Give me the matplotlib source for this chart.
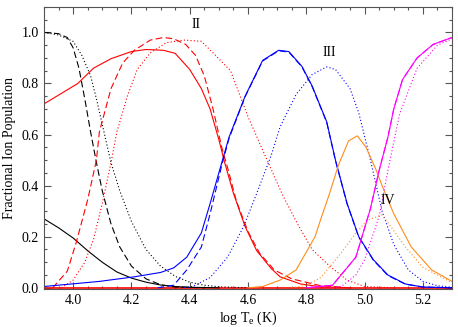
import matplotlib
matplotlib.use('Agg')
import matplotlib.pyplot as plt
from matplotlib.ticker import MultipleLocator

plt.rcParams['font.family'] = ['Liberation Serif', 'DejaVu Serif']
plt.rcParams['mathtext.fontset'] = 'custom'
plt.rcParams['mathtext.rm'] = 'Liberation Serif'
plt.rcParams['mathtext.it'] = 'Liberation Serif:italic'

# %% data (log T, fraction)
black_solid_x = [3.9, 3.95, 4.0, 4.05, 4.1, 4.15, 4.2, 4.25, 4.3, 4.35, 4.4, 4.5]
black_solid_y = [0.27, 0.235, 0.195, 0.145, 0.1, 0.062, 0.038, 0.022, 0.011, 0.005, 0.002, 0.0]

black_dash_x = [3.9, 3.95, 3.98, 4.0, 4.02, 4.04, 4.06, 4.08, 4.1, 4.13, 4.16, 4.2, 4.25, 4.3, 4.35, 4.45]
black_dash_y = [1.0, 0.995, 0.98, 0.94, 0.86, 0.74, 0.61, 0.49, 0.38, 0.25, 0.16, 0.085, 0.035, 0.012, 0.003, 0.0]

black_dot_x = [3.9, 3.95, 4.0, 4.03, 4.06, 4.08, 4.1, 4.13, 4.16, 4.2, 4.25, 4.3, 4.35, 4.4, 4.45, 4.5, 4.6]
black_dot_y = [1.0, 0.99, 0.965, 0.91, 0.83, 0.74, 0.64, 0.49, 0.38, 0.26, 0.15, 0.085, 0.045, 0.022, 0.01, 0.004, 0.0]

red_solid_x = [3.9, 4.016, 4.07, 4.13, 4.2, 4.25, 4.31, 4.35, 4.4, 4.44, 4.47, 4.5, 4.52,
               4.55, 4.59, 4.63, 4.68, 4.71, 4.78, 4.85, 4.95]
red_solid_y = [0.72, 0.8, 0.86, 0.897, 0.925, 0.933, 0.93, 0.918, 0.855, 0.78, 0.7, 0.58, 0.49,
               0.37, 0.24, 0.145, 0.075, 0.043, 0.015, 0.004, 0.0]

red_dash_x = [3.93, 3.98, 4.01, 4.03, 4.05, 4.08, 4.09, 4.13, 4.17, 4.21, 4.265, 4.31, 4.345,
              4.386, 4.42, 4.45, 4.48, 4.51, 4.53, 4.56, 4.6, 4.64, 4.69, 4.75, 4.85, 4.95]
red_dash_y = [0.0, 0.065, 0.175, 0.26, 0.345, 0.5, 0.61, 0.78, 0.88, 0.93, 0.97, 0.98, 0.975,
              0.953, 0.91, 0.83, 0.7, 0.55, 0.47, 0.34, 0.22, 0.135, 0.07, 0.035, 0.008, 0.0]

red_dot_x = [3.96, 4.0, 4.04, 4.07, 4.1, 4.13, 4.15, 4.186, 4.22, 4.265, 4.32, 4.38, 4.44, 4.48,
             4.54, 4.6, 4.65, 4.72, 4.77, 4.82, 4.88, 4.94, 5.0, 5.1]
red_dot_y = [0.0, 0.03, 0.1, 0.19, 0.33, 0.49, 0.61, 0.75, 0.855, 0.92, 0.96, 0.97, 0.965, 0.92,
             0.85, 0.67, 0.54, 0.36, 0.25, 0.15, 0.085, 0.03, 0.005, 0.0]

blue_solid_x = [3.9, 4.09, 4.21, 4.3, 4.345, 4.39, 4.44, 4.47, 4.51, 4.535, 4.59, 4.65, 4.705,
                4.74, 4.785, 4.82, 4.87, 4.9, 4.94, 4.98, 5.03, 5.08, 5.14, 5.2, 5.3]
blue_solid_y = [0.005, 0.025, 0.043, 0.06, 0.078, 0.12, 0.215, 0.33, 0.49, 0.59, 0.75, 0.89, 0.93,
                0.925, 0.867, 0.79, 0.65, 0.5, 0.33, 0.2, 0.11, 0.05, 0.015, 0.003, 0.0]

blue_dash_x = [4.29, 4.345, 4.39, 4.44, 4.47, 4.51, 4.535, 4.59, 4.65, 4.705,
               4.74, 4.785, 4.82, 4.87, 4.9, 4.94, 4.98, 5.03, 5.08, 5.14, 5.2, 5.3]
blue_dash_y = [0.0, 0.01, 0.07, 0.16, 0.29, 0.48, 0.585, 0.748, 0.888, 0.928,
               0.923, 0.865, 0.788, 0.648, 0.498, 0.328, 0.198, 0.108, 0.048, 0.014, 0.003, 0.0]

blue_dot_x = [4.37, 4.41, 4.47, 4.53, 4.585, 4.63, 4.68, 4.71, 4.765, 4.82, 4.87, 4.9, 4.95,
              4.98, 5.02, 5.06, 5.1, 5.15, 5.2, 5.25, 5.3]
blue_dot_y = [0.0, 0.005, 0.04, 0.12, 0.24, 0.37, 0.52, 0.63, 0.757, 0.835, 0.865, 0.855, 0.78,
              0.685, 0.5, 0.3, 0.17, 0.07, 0.025, 0.008, 0.002]

orange_solid_x = [4.6, 4.65, 4.71, 4.765, 4.83, 4.85, 4.88, 4.91, 4.945, 4.975, 5.005, 5.04,
                  5.06, 5.1, 5.16, 5.23, 5.3]
orange_solid_y = [0.0, 0.005, 0.03, 0.07, 0.2, 0.27, 0.37, 0.48, 0.575, 0.595, 0.55, 0.46,
                  0.4, 0.29, 0.16, 0.07, 0.025]

orange_dot_x = [4.75, 4.8, 4.85, 4.92, 4.97, 5.01, 5.06, 5.09, 5.14, 5.2, 5.3]
orange_dot_y = [0.0, 0.01, 0.04, 0.137, 0.215, 0.265, 0.285, 0.24, 0.16, 0.08, 0.02]

mag_solid_x = [4.8, 4.89, 4.97, 5.02, 5.05, 5.08, 5.1, 5.13, 5.18, 5.235, 5.3]
mag_solid_y = [0.0, 0.01, 0.12, 0.31, 0.46, 0.59, 0.7, 0.815, 0.9, 0.953, 0.98]

mag_dot_x = [4.88, 4.92, 4.97, 5.0, 5.05, 5.08, 5.12, 5.18, 5.25, 5.3]
mag_dot_y = [0.0, 0.005, 0.05, 0.11, 0.28, 0.46, 0.68, 0.86, 0.95, 0.975]

zero_x = [3.9, 5.3]
zero_y = [0.0, 0.0]

ion_labels = ['II', 'III', 'IV']
label_x = [4.42, 4.88, 5.08]
label_y = [1.03, 0.92, 0.34]

# %% plot
orange = '#ff8c1a'
magenta = '#ff00ff'
lw = 0.8
dash = (0, (6, 3))
dot = (0, (1, 2))

fg = plt.figure(figsize=(4.58, 3.27), dpi=100)
ax = fg.add_axes([0.096, 0.116, 0.891, 0.863])

ax.plot(zero_x, zero_y, color='red', lw=1.2)

ax.plot(black_solid_x, black_solid_y, color='black', lw=lw)
ax.plot(black_dash_x, black_dash_y, color='black', lw=lw, ls=dash)
ax.plot(black_dot_x, black_dot_y, color='black', lw=lw, ls=dot)

ax.plot(red_solid_x, red_solid_y, color='red', lw=lw)
ax.plot(red_dash_x, red_dash_y, color='red', lw=lw, ls=dash)
ax.plot(red_dot_x, red_dot_y, color='red', lw=lw, ls=dot)

ax.plot(blue_solid_x, blue_solid_y, color='blue', lw=lw)
ax.plot(blue_dash_x, blue_dash_y, color='blue', lw=lw, ls=dash)
ax.plot(blue_dot_x, blue_dot_y, color='blue', lw=lw, ls=dot)

ax.plot(orange_solid_x, orange_solid_y, color=orange, lw=lw)
ax.plot(orange_dot_x, orange_dot_y, color=orange, lw=lw, ls=dot)

ax.plot(mag_solid_x, mag_solid_y, color=magenta, lw=lw)
ax.plot(mag_solid_x, mag_solid_y, color=magenta, lw=lw, ls=dash)
ax.plot(mag_dot_x, mag_dot_y, color=magenta, lw=lw, ls=dot)

for t, x, y in zip(ion_labels, label_x, label_y):
    ax.text(x, y, t, fontsize=10, ha='center', va='center')

ax.set_xlim(3.9, 5.3)
ax.set_ylim(-0.005, 1.1)
ax.xaxis.set_major_locator(MultipleLocator(0.2))
ax.xaxis.set_minor_locator(MultipleLocator(0.05))
ax.yaxis.set_major_locator(MultipleLocator(0.2))
ax.yaxis.set_minor_locator(MultipleLocator(0.05))
ax.tick_params(which='both', direction='in', top=True, right=True, labelsize=10, color='#555555')
ax.tick_params(which='major', length=5, width=0.8)
ax.tick_params(which='minor', length=2.5, width=0.8)
for s in ax.spines.values():
    s.set_linewidth(0.8)
    s.set_color('#555555')

ax.set_xlabel(r'log T$_{\rm e}$ (K)', fontsize=10, labelpad=2)
ax.set_ylabel('Fractional Ion Population', fontsize=10, labelpad=4)

fg.savefig('out.png', dpi=100)
